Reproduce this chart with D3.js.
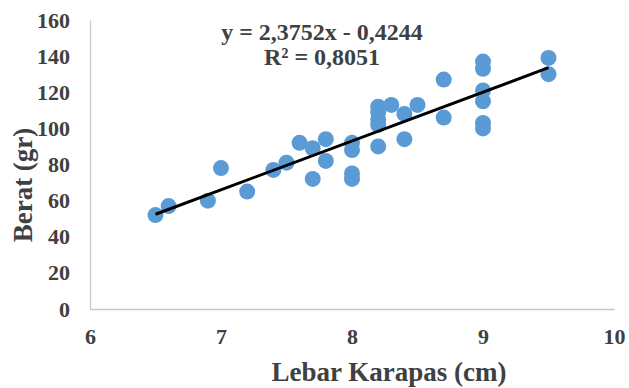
<!DOCTYPE html>
<html>
<head>
<meta charset="utf-8">
<script src="https://cdn.jsdelivr.net/npm/d3@7/dist/d3.min.js"></script>
<style>
  html, body { margin: 0; padding: 0; background: #fff; }
  svg { display: block; }
  text { font-family: "Liberation Serif", "Times New Roman", serif; font-weight: bold; fill: #404040; }
</style>
</head>
<body>
<svg id="chart" width="629" height="388"></svg>
<script>
// Carapace width (cm) and weight (gr) of each sample
const lebar = [6.5, 6.6, 6.9, 7.0, 7.2, 7.4, 7.5, 7.6, 7.7, 7.7, 7.8, 7.8, 8.0, 8.0, 8.0, 8.0,
               8.2, 8.2, 8.2, 8.2, 8.2, 8.3, 8.4, 8.4, 8.5, 8.7, 8.7,
               9.0, 9.0, 9.0, 9.0, 9.0, 9.0, 9.5, 9.5];
const berat = [52, 57, 60, 78, 65, 77, 81, 92, 89, 72, 94, 82, 92, 88, 75, 72,
               112, 109, 105, 102, 90, 113, 108, 94, 113, 127, 106,
               137, 133, 121, 115, 103, 100, 139, 130];
const xTicks = [6, 7, 8, 9, 10];
const yTicks = [0, 20, 40, 60, 80, 100, 120, 140, 160];
const equationLines = ["y = 2,3752x - 0,4244", "R² = 0,8051"];

(function () {
  const svg = d3.select("#chart");
  const m = { left: 90, right: 614, top: 20, bottom: 309 };

  const x = d3.scaleLinear().domain([6, 10]).range([m.left, m.right]);
  const y = d3.scaleLinear().domain([0, 160]).range([m.bottom, m.top]);

  // Axes: plain grey lines with no tick marks
  const xAxis = svg.append("g").attr("transform", `translate(0,${m.bottom})`)
    .call(d3.axisBottom(x).tickValues(xTicks).tickSize(0).tickPadding(19).tickFormat(d3.format("d")));
  const yAxis = svg.append("g").attr("transform", `translate(${m.left},0)`)
    .call(d3.axisLeft(y).tickValues(yTicks).tickSize(0).tickPadding(20).tickFormat(d3.format("d")));
  [xAxis, yAxis].forEach(g => {
    g.select(".domain").attr("stroke", "#c8c8c8").attr("stroke-width", 1.3);
    g.selectAll("text").style("font-size", "22px").attr("fill", "#404040")
      .style("font-family", "'Liberation Serif', serif").style("font-weight", "bold");
  });

  // Sample points
  const pts = lebar.map((v, i) => ({ x: v, y: berat[i] }));
  svg.append("g").selectAll("circle").data(pts).join("circle")
    .attr("cx", d => x(d.x)).attr("cy", d => y(d.y)).attr("r", 8)
    .attr("fill", "#5b9bd5");

  // Least-squares trend line across the sampled range
  const mx = d3.mean(lebar), my = d3.mean(berat);
  const slope = d3.sum(pts, d => (d.x - mx) * (d.y - my)) / d3.sum(pts, d => (d.x - mx) ** 2);
  const icpt = my - slope * mx;
  const [x0, x1] = d3.extent(lebar);
  svg.append("line")
    .attr("x1", x(x0)).attr("y1", y(slope * x0 + icpt))
    .attr("x2", x(x1)).attr("y2", y(slope * x1 + icpt))
    .attr("stroke", "#000").attr("stroke-width", 3);

  // Regression equation label
  svg.append("g").selectAll("text").data(equationLines).join("text")
    .attr("x", 322).attr("y", (d, i) => 40 + i * 25)
    .attr("text-anchor", "middle").style("font-size", "24px")
    .text(d => d);

  // Axis titles
  svg.append("text").attr("x", 389).attr("y", 381).attr("text-anchor", "middle")
    .style("font-size", "27px").text("Lebar Karapas (cm)");
  svg.append("text").attr("transform", "translate(32,185) rotate(-90)")
    .attr("text-anchor", "middle").style("font-size", "27px").text("Berat (gr)");
})();
</script>
</body>
</html>
